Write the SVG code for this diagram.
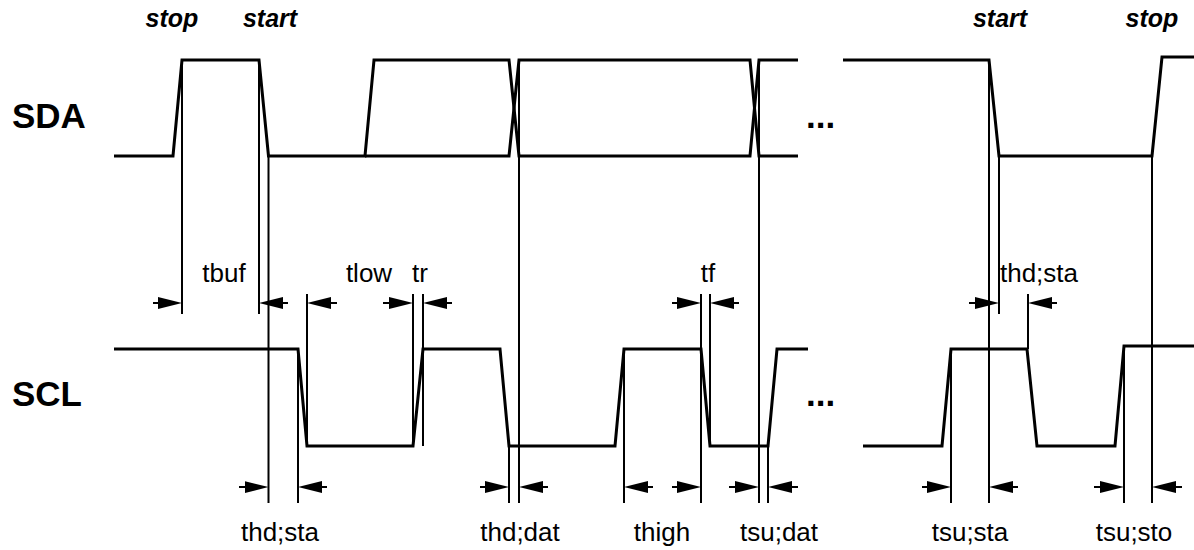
<svg xmlns="http://www.w3.org/2000/svg" width="1194" height="550" viewBox="0 0 1194 550">
<style>
.sig{fill:none;stroke:#000;stroke-width:3;stroke-linejoin:miter}
.ref{stroke:#000;stroke-width:2}
.arr{stroke:#000;stroke-width:2;marker-end:url(#ah)}
.lbl{font-family:"Liberation Sans",Arial,sans-serif;font-size:26px;fill:#000;text-anchor:middle}
.name{font-family:"Liberation Sans",Arial,sans-serif;font-size:35px;font-weight:bold;fill:#000}
.cond{font-family:"Liberation Sans",Arial,sans-serif;font-size:25px;font-weight:bold;font-style:italic;fill:#000;text-anchor:middle}
</style>
<defs>
<marker id="ah" markerUnits="userSpaceOnUse" markerWidth="24" markerHeight="12" refX="12" refY="6" orient="auto" viewBox="0 0 24 12">
<path d="M0,0 L24,6 L0,12 z" fill="#000"/>
</marker>
</defs>
<rect width="1194" height="550" fill="#fff"/>
<g id="sda">
<text class="name" x="12" y="128">SDA</text>
<path class="sig" d="M114,156 H173 L182,60 H259 L268.5,156 H365 L374,60 H509 L519,156 H750 L759,60 H798"/>
<path class="sig" d="M365,156 H509 L519,60 H750 L759,156 H798"/>
<text class="name" x="806" y="128">...</text>
<path class="sig" d="M843,60 H989 L999,156 H1152 L1162,57 H1194"/>
</g>
<g id="scl">
<text class="name" x="12" y="406">SCL</text>
<path class="sig" d="M114,349 H298 L307,446 H413 L423,349 H500 L509,446 H615 L624,349 H701 L710,446 H768 L777,349 H808"/>
<text class="name" x="806" y="406">...</text>
<path class="sig" d="M863,446 H942 L951,349 H1027 L1037,446 H1115 L1124,346 H1194"/>
</g>
<g id="conditions">
<text class="cond" x="172" y="27">stop</text>
<text class="cond" x="270" y="27">start</text>
<text class="cond" x="1000" y="27">start</text>
<text class="cond" x="1152" y="27">stop</text>
</g>
<g id="connectors">
<line class="ref" x1="182" y1="60" x2="182" y2="314"/>
<line class="ref" x1="259" y1="60" x2="259" y2="314"/>
<line class="ref" x1="268.5" y1="156" x2="268.5" y2="503"/>
<line class="ref" x1="298" y1="349" x2="298" y2="503"/>
<line class="ref" x1="307" y1="294" x2="307" y2="446"/>
<line class="ref" x1="413" y1="294" x2="413" y2="446"/>
<line class="ref" x1="423" y1="294" x2="423" y2="446"/>
<line class="ref" x1="509" y1="446" x2="509" y2="503"/>
<line class="ref" x1="519" y1="60" x2="519" y2="503"/>
<line class="ref" x1="624" y1="349" x2="624" y2="503"/>
<line class="ref" x1="701" y1="294" x2="701" y2="503"/>
<line class="ref" x1="710" y1="294" x2="710" y2="446"/>
<line class="ref" x1="759" y1="60" x2="759" y2="503"/>
<line class="ref" x1="768" y1="446" x2="768" y2="503"/>
<line class="ref" x1="951" y1="349" x2="951" y2="503"/>
<line class="ref" x1="989" y1="60" x2="989" y2="503"/>
<line class="ref" x1="999" y1="156" x2="999" y2="314"/>
<line class="ref" x1="1028" y1="294" x2="1028" y2="349"/>
<line class="ref" x1="1124" y1="346" x2="1124" y2="503"/>
<line class="ref" x1="1152" y1="156" x2="1152" y2="503"/>
<!-- upper arrows -->
<line class="arr" x1="153" y1="303" x2="170" y2="303"/>
<line class="arr" x1="288" y1="303" x2="271" y2="303"/>
<line class="arr" x1="337" y1="303" x2="319" y2="303"/>
<line class="arr" x1="383" y1="303" x2="401" y2="303"/>
<line class="arr" x1="452" y1="303" x2="435" y2="303"/>
<line class="arr" x1="672" y1="303" x2="689" y2="303"/>
<line class="arr" x1="739" y1="303" x2="722" y2="303"/>
<line class="arr" x1="969" y1="303" x2="987" y2="303"/>
<line class="arr" x1="1057" y1="303" x2="1040" y2="303"/>
<!-- lower arrows -->
<line class="arr" x1="239" y1="487" x2="256.5" y2="487"/>
<line class="arr" x1="327" y1="487" x2="310" y2="487"/>
<line class="arr" x1="480" y1="487" x2="497" y2="487"/>
<line class="arr" x1="548" y1="487" x2="531" y2="487"/>
<line class="arr" x1="653" y1="487" x2="636" y2="487"/>
<line class="arr" x1="672" y1="487" x2="689" y2="487"/>
<line class="arr" x1="729" y1="487" x2="747" y2="487"/>
<line class="arr" x1="798" y1="487" x2="780" y2="487"/>
<line class="arr" x1="922" y1="487" x2="939" y2="487"/>
<line class="arr" x1="1018" y1="487" x2="1001" y2="487"/>
<line class="arr" x1="1094" y1="487" x2="1112" y2="487"/>
<line class="arr" x1="1182" y1="487" x2="1164" y2="487"/>
</g>
<g id="timing-upper">
<text class="lbl" x="224" y="282">tbuf</text>
<text class="lbl" x="369" y="282">tlow</text>
<text class="lbl" x="420" y="282">tr</text>
<text class="lbl" x="708" y="282">tf</text>
<text class="lbl" x="1039" y="282">thd;sta</text>
</g>
<g id="timing-lower">
<text class="lbl" x="280" y="541">thd;sta</text>
<text class="lbl" x="520" y="541">thd;dat</text>
<text class="lbl" x="662" y="541">thigh</text>
<text class="lbl" x="779" y="541">tsu;dat</text>
<text class="lbl" x="970" y="541">tsu;sta</text>
<text class="lbl" x="1134" y="541">tsu;sto</text>
</g>
</svg>
